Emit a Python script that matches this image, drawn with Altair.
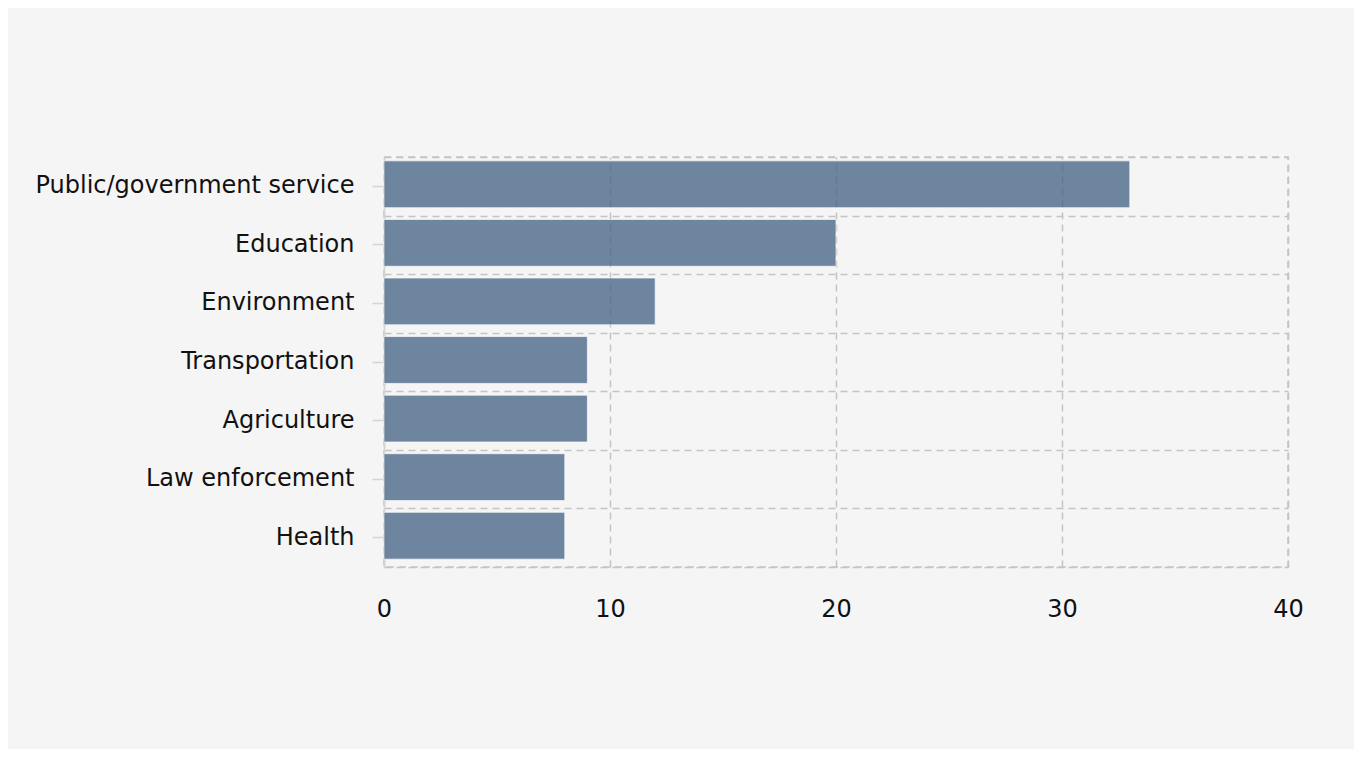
import altair as alt
import pandas as pd

categories = ["Public/government service", "Education", "Environment",
              "Transportation", "Agriculture", "Law enforcement", "Health"]
values = [33, 20, 12, 9, 9, 8, 8]

df = pd.DataFrame({"category": categories, "count": values})

FONT = "DejaVu Sans"
GRID = "#c4c4c4"
DASH = [7, 5]

x_enc = alt.X("count:Q", scale=alt.Scale(domain=[0, 40]), title=None,
              axis=alt.Axis(values=[0, 10, 20, 30, 40], grid=True, gridColor=GRID,
                            gridDash=DASH, gridWidth=1.5, domain=False, ticks=False,
                            labelFlush=False,
                            labelPadding=30, labelFontSize=24, labelFont=FONT,
                            labelColor="#111111"))

base = alt.Chart(df)

grid_layer = base.mark_bar(opacity=0).encode(
    x=x_enc,
    y=alt.Y("category:N", sort=categories, title=None,
            scale=alt.Scale(paddingInner=0, paddingOuter=0),
            axis=alt.Axis(grid=True, tickBand="extent", labels=False, ticks=False,
                          domain=False, orient="left", gridColor=GRID,
                          gridDash=DASH, gridWidth=1.5)),
)

bars = base.mark_bar(color="#426084", opacity=0.75, stroke="#ffffff",
                     strokeWidth=1, strokeOpacity=0.7, yOffset=-2).encode(
    x=x_enc,
    y=alt.Y("category:N", sort=categories, title=None,
            scale=alt.Scale(paddingInner=0.2, paddingOuter=0.1),
            axis=alt.Axis(grid=False, orient="left", ticks=True, tickSize=12,
                          tickColor="#d4d4d4", tickWidth=1.5, domain=True,
                          domainColor="#d4d4d4", domainWidth=1.5,
                          labelPadding=18, labelFontSize=24, labelFont=FONT,
                          labelColor="#111111", labelLimit=1000)),
)

chart = alt.layer(grid_layer, bars).resolve_scale(y="independent").properties(
    width=904, height=410,
    background="#f5f5f5",
    padding={"left": 26, "top": 149, "right": 50, "bottom": 128},
).configure_view(stroke=GRID, strokeDash=DASH, strokeWidth=1.5)

chart.save("out.html", embed_options={"renderer": "svg", "actions": False})
